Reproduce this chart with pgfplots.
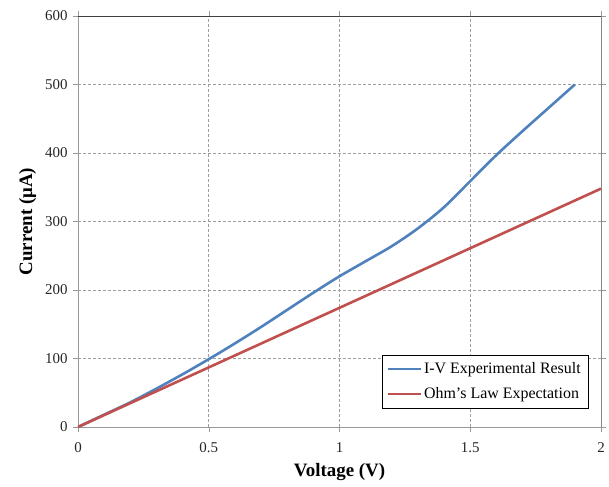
\documentclass[border=0pt]{standalone}
\usepackage{fontspec}
\setmainfont{Liberation Serif}
\usepackage{pgfplots}
\pgfplotsset{compat=1.18}

\definecolor{xlblue}{HTML}{4F81BD}
\definecolor{xlred}{HTML}{C0504D}

\begin{document}
\begin{tikzpicture}
\begin{axis}[
  scale only axis,
  width=523bp,
  height=411bp,
  xmin=0, xmax=2,
  ymin=0, ymax=600,
  xtick={0,0.5,1,1.5,2},
  xticklabels={0,0.5,1,1.5,2},
  ytick={0,100,200,300,400,500,600},
  /pgf/number format/assume math mode=true,
  tick label style={font=\fontsize{15}{18}\selectfont, text=black!85},
  xticklabel style={yshift=-7bp},
  yticklabel style={xshift=-2bp},
  tick align=outside,
  major tick length=5bp,
  tick style={gray!80, thin},
  axis line style={gray!80, thin},
  grid=major,
  major grid style={gray!75, dash pattern=on 3bp off 2bp, line width=0.7bp},
  xlabel={\textbf{Voltage (V)}},
  ylabel={\textbf{Current (μA)}},
  label style={font=\fontsize{19}{22}\selectfont},
  xlabel style={yshift=-4bp},
  ylabel style={yshift=2bp},
  legend style={at={(0.975,0.046)}, anchor=south east, draw=black, thin,
    font=\fontsize{16}{19}\selectfont, inner xsep=5bp, inner ysep=6bp,
    row sep=8bp, cells={anchor=west}},
  legend image code/.code={\draw[#1, line width=2bp] (0bp,0bp) -- (33bp,0bp);},
]
\addplot[xlblue, line width=2.6bp, smooth] coordinates {
  (0,0) (0.1,18) (0.2,36) (0.3,56) (0.4,77) (0.5,99) (0.6,122) (0.7,146)
  (0.8,171) (0.9,196) (1.0,220) (1.1,242) (1.2,264) (1.3,290) (1.4,321)
  (1.5,359) (1.6,397) (1.7,432) (1.8,466) (1.9,500)};
\addplot[xlred, line width=2.6bp] coordinates {
  (0,0) (0.5,87) (1.0,174) (1.5,261) (2.0,348)};
\legend{I-V Experimental Result, Ohm's Law Expectation}
\draw[black!75, thin] (rel axis cs:0,1) -- (rel axis cs:1,1);
\draw[black, thin] (rel axis cs:1,1) -- (rel axis cs:1,0);
\coordinate (ll) at (rel axis cs:0,0);
\coordinate (ur) at (rel axis cs:1,1);
\end{axis}
\pgfresetboundingbox
\path ([shift={(-78bp,-60bp)}]ll) rectangle ([shift={(8bp,16bp)}]ur);
\end{tikzpicture}
\end{document}
